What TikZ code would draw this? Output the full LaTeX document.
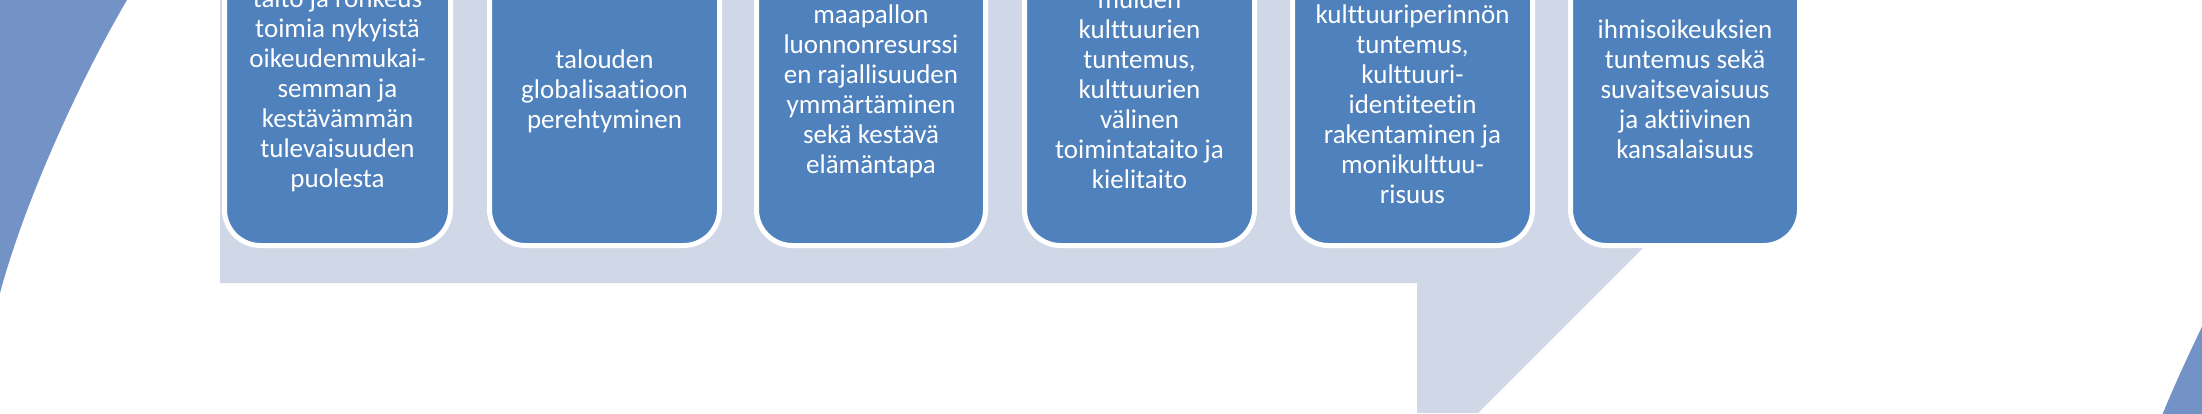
\documentclass[tikz,border=0pt]{standalone}
\usepackage{xcolor}
\usepackage{fontspec}
\setmainfont{Carlito}[Ligatures={NoCommon}]
\usepackage{tikz}
\usetikzlibrary{positioning}

\definecolor{cardblue}{HTML}{4F81BD}
\definecolor{bandgrey}{HTML}{D0D8E8}
\definecolor{ringblue}{HTML}{7393C7}

\begin{document}
\begin{tikzpicture}[
		x=1pt,
		y=-1pt,
		font=\fontsize{27pt}{30pt}\selectfont,
	]
		\tikzset{card/.style={
			draw=white,
			fill=cardblue,
			line width=5,
			rounded corners=36,
			anchor=south,
			minimum height=420,
		}}
		\tikzset{cardtext/.style={
			text=white,
			align=center,
			anchor=base,
			inner sep=0,
		}}

		\useasboundingbox (0,0) rectangle (2202,413);
		\clip (0,0) rectangle (2202,413);

		\fill[ringblue] (-5,-5) -- (130,-5) -- (127,0)
			.. controls (80,80) and (25,200) .. (0,293) -- (-5,310) -- cycle;
		\fill[ringblue] (2161,420) -- (2163,413)
			.. controls (2180,372) and (2192,348) .. (2206,318) -- (2208,420) -- cycle;

		\fill[bandgrey] (220,-10) -- (1700,-10) -- (1700,191) -- (1478,413)
			-- (1417,413) -- (1417,283) -- (220,283) -- cycle;

		\node[card, minimum width=226] (card1) at (337.5,248) {};
		\node[card, minimum width=230] (card2) at (604.5,248) {};
		\node[card, minimum width=229] (card3) at (871,248) {};
		\node[card, minimum width=230] (card4) at (1139.5,248) {};
		\node[card, minimum width=240] (card5) at (1412.5,248) {};
		\node[card, minimum width=229] (card6) at (1685,248) {};

		% anchored on the last line
		\node[cardtext] (text1) at (card1.south |- 0,187) {taito ja rohkeus\\toimia nykyistä\\oikeudenmukai-\\semman ja\\kestävämmän\\tulevaisuuden\\puolesta};
		\node[cardtext] (text2) at (card2.south |- 0,128) {talouden\\globalisaatioon\\perehtyminen};
		\node[cardtext] (text3) at (card3.south |- 0,173) {maapallon\\luonnonresurssi\\en rajallisuuden\\ymmärtäminen\\sekä kestävä\\elämäntapa};
		\node[cardtext] (text4) at (card4.south |- 0,188) {muiden\\kulttuurien\\tuntemus,\\kulttuurien\\välinen\\toimintataito ja\\kielitaito};
		\node[cardtext] (text5) at (card5.south |- 0,203) {kulttuuriperinnön\\tuntemus,\\kulttuuri-\\identiteetin\\rakentaminen ja\\monikulttuu-\\risuus};
		\node[cardtext] (text6) at (card6.south |- 0,158) {ihmisoikeuksien\\tuntemus sekä\\suvaitsevaisuus\\ja aktiivinen\\kansalaisuus};
	\end{tikzpicture}
\end{document}
